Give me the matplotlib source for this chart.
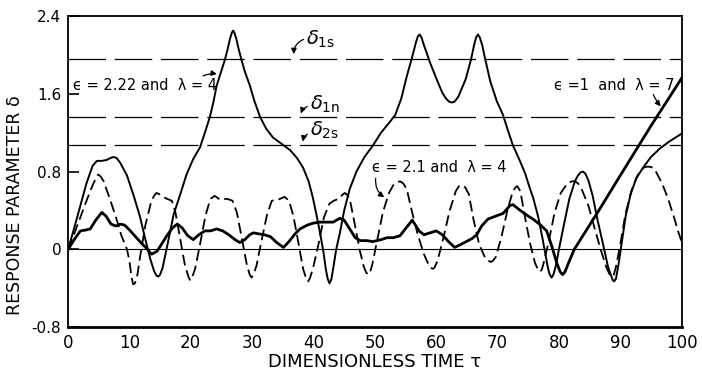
import matplotlib
matplotlib.use("Agg")
import matplotlib.pyplot as plt

# eps = 2.22, lambda = 4 (thin solid)
tau_a = [0, 1, 2, 3, 4, 4.7, 5.5, 6.3, 6.9, 7.4, 7.9, 8.5, 9.6, 10.7, 11.7, 12.6, 13.4,
         14.0, 14.4, 14.7, 15.0, 15.4, 16.1, 16.6, 17.2, 18.2, 19.3, 20.4, 21.5, 22.3,
         23.1, 23.7, 24.2, 25.0, 25.6, 26.0, 26.4, 26.7, 26.9, 27.1, 27.4, 27.8, 28.3,
         28.8, 29.6, 30.4, 31.3, 32.3, 33.4, 34.7, 36.2, 37.3, 38.3, 39.2, 39.9, 40.5,
         41.0, 41.6, 42.0, 42.3, 42.6, 42.9, 43.2, 43.7, 44.3, 45.0, 45.9, 47.0, 48.3,
         49.7, 51.0, 52.3, 53.3, 54.3, 55.2, 56.0, 56.7, 57.0, 57.3, 57.6, 58.0, 59.0,
         60.0, 61.0, 61.6, 62.1, 62.5, 63.0, 63.6, 64.8, 65.7, 66.2, 66.5, 66.8, 67.1,
         67.5, 67.9, 68.8, 69.9, 70.9, 71.7, 72.5, 73.5, 74.5, 75.3, 75.8, 76.6, 77.3,
         77.8, 78.2, 78.5, 78.8, 79.1, 79.5, 80.0, 80.8, 81.7, 82.6, 83.1, 83.5, 83.9,
         84.3, 84.8, 85.5, 86.3, 87.2, 88.0, 88.5, 88.8, 89.0, 89.3, 89.7, 90.2, 90.9,
         91.7, 92.6, 93.7, 95.0, 96.5, 98.0, 100]
delta_a = [0, 0.22, 0.45, 0.68, 0.86, 0.91, 0.91, 0.92, 0.94, 0.95, 0.94, 0.89, 0.76,
           0.55, 0.34, 0.10, -0.10, -0.22, -0.27, -0.28, -0.26, -0.19, 0.02, 0.17, 0.36,
           0.55, 0.77, 0.93, 1.05, 1.20, 1.36, 1.52, 1.68, 1.84, 1.96, 2.06, 2.17, 2.23,
           2.25, 2.23, 2.17, 2.06, 1.94, 1.83, 1.69, 1.52, 1.36, 1.24, 1.15, 1.09, 1.02,
           0.94, 0.84, 0.70, 0.53, 0.35, 0.19, -0.02, -0.20, -0.30, -0.35, -0.31, -0.20,
           0.0, 0.17, 0.40, 0.62, 0.80, 0.95, 1.07, 1.20, 1.30, 1.38, 1.55, 1.78, 1.96,
           2.13, 2.19, 2.21, 2.18, 2.10, 1.92, 1.76, 1.61, 1.55, 1.52, 1.51, 1.52, 1.57,
           1.75, 1.96, 2.11, 2.18, 2.21, 2.18, 2.10, 1.98, 1.73, 1.52, 1.38, 1.22, 1.07,
           0.93, 0.78, 0.62, 0.53, 0.34, 0.12, -0.05, -0.19, -0.26, -0.29, -0.26, -0.17,
           0.0, 0.25, 0.52, 0.70, 0.76, 0.79, 0.80, 0.78, 0.71, 0.55, 0.30, 0.05, -0.18,
           -0.27, -0.32, -0.33, -0.30, -0.16, 0.05, 0.35, 0.57, 0.73, 0.84, 0.95, 1.04,
           1.11, 1.19]

# eps = 2.1, lambda = 4 (dashed)
tau_b = [0, 1, 2, 3, 4, 4.6, 4.9, 5.3, 5.8, 6.8, 7.8, 8.7, 9.6, 10.0, 10.3, 10.6, 10.9,
         11.3, 11.8, 12.6, 13.5, 14.0, 14.4, 14.8, 15.2, 16.1, 16.9, 17.5, 18.3, 19.0,
         19.6, 19.9, 20.2, 20.7, 21.5, 22.4, 23.2, 23.9, 24.8, 25.9, 26.8, 27.5, 28.3,
         29.1, 29.6, 29.9, 30.2, 30.7, 31.5, 32.4, 33.2, 34.2, 35.3, 36.0, 36.7, 37.5,
         38.3, 38.8, 39.1, 39.4, 39.9, 40.8, 41.7, 42.6, 43.3, 44.1, 44.7, 45.1, 45.5,
         45.9, 46.6, 47.5, 48.2, 48.6, 48.9, 49.2, 49.6, 50.4, 51.3, 52.3, 53.0, 53.6,
         54.1, 54.6, 55.2, 56.0, 57.0, 58.0, 58.7, 59.1, 59.4, 59.7, 60.2, 61.1, 62.2,
         63.2, 63.7, 64.2, 64.7, 65.3, 66.1, 67.0, 68.0, 68.6, 68.9, 69.2, 69.7, 70.6,
         71.6, 72.4, 72.8, 73.2, 73.7, 74.5, 75.3, 76.1, 76.6, 76.9, 77.2, 77.6, 78.4,
         79.3, 80.3, 81.4, 82.1, 82.6, 83.1, 83.7, 84.8, 85.8, 86.8, 87.7, 88.2, 88.6,
         88.9, 89.3, 90.0, 90.8, 91.8, 92.8, 93.8, 94.3, 94.8, 95.3, 95.8, 96.8, 97.8,
         98.8, 99.5, 100]
delta_b = [0, 0.16, 0.33, 0.50, 0.66, 0.74, 0.77, 0.75, 0.70, 0.52, 0.33, 0.14, 0.0,
           -0.12, -0.27, -0.36, -0.35, -0.26, -0.05, 0.25, 0.48, 0.55, 0.58, 0.57, 0.55,
           0.52, 0.50, 0.38, 0.10, -0.15, -0.28, -0.32, -0.29, -0.20, 0.05, 0.35, 0.52,
           0.55, 0.51, 0.52, 0.50, 0.38, 0.12, -0.15, -0.26, -0.29, -0.26, -0.17, 0.08,
           0.35, 0.50, 0.51, 0.54, 0.50, 0.35, 0.08, -0.20, -0.30, -0.33, -0.30, -0.20,
           0.05, 0.33, 0.47, 0.50, 0.52, 0.56, 0.58, 0.56, 0.52, 0.30, 0.0, -0.18, -0.24,
           -0.26, -0.24, -0.15, 0.10, 0.38, 0.58, 0.66, 0.69, 0.70, 0.68, 0.62, 0.40, 0.15,
           -0.05, -0.15, -0.19, -0.20, -0.19, -0.12, 0.10, 0.40, 0.60, 0.65, 0.66, 0.64,
           0.57, 0.30, 0.05, -0.09, -0.12, -0.13, -0.12, -0.08, 0.12, 0.40, 0.58, 0.63,
           0.65, 0.60, 0.32, 0.06, -0.14, -0.21, -0.23, -0.21, -0.12, 0.10, 0.38, 0.58,
           0.68, 0.70, 0.70, 0.68, 0.62, 0.45, 0.22, 0.0, -0.18, -0.25, -0.28, -0.27, -0.18,
           0.05, 0.35, 0.60, 0.76, 0.84, 0.85, 0.85, 0.84, 0.80, 0.68, 0.52, 0.32, 0.17,
           0.08]

# eps = 1, lambda = 7 (heavy solid)
tau_c = [0, 1, 2.0, 3.0, 3.6, 4.5, 5.5, 6.2, 7.0, 7.8, 8.5, 9.2, 10.0, 11.0, 12.0, 12.8,
         13.6, 14.5, 15.3, 16.1, 17.0, 17.8, 18.6, 19.5, 20.4, 21.3, 22.3, 23.2, 24.2,
         25.2, 26.2, 27.2, 28.0, 28.8, 29.6, 30.2, 31.0, 32.0, 33.0, 34.0, 35.1, 36.0,
         37.0, 37.8, 39.0, 40.0, 41.0, 42.2, 43.2, 44.3, 45.0, 46.0, 46.8, 47.6, 48.6,
         49.7, 51.0, 52.0, 53.0, 54.1, 55.2, 56.1, 57.2, 58.0, 59.0, 60.0, 61.0, 62.0,
         63.0, 64.0, 64.9, 65.8, 66.6, 67.4, 68.4, 69.6, 70.9, 72.0, 72.5, 73.5, 74.8,
         75.8, 77.0, 78.0, 78.8, 79.7, 80.2, 80.6, 81.0, 81.5, 82.5, 86.6, 90.0, 95.0, 100]
delta_c = [0, 0.10, 0.19, 0.20, 0.21, 0.30, 0.38, 0.34, 0.26, 0.24, 0.26, 0.25, 0.20, 0.13,
           0.06, 0.01, -0.05, -0.02, 0.06, 0.14, 0.22, 0.26, 0.22, 0.14, 0.10, 0.15, 0.19,
           0.19, 0.21, 0.19, 0.15, 0.10, 0.07, 0.10, 0.15, 0.17, 0.16, 0.15, 0.13, 0.07,
           0.02, 0.08, 0.16, 0.21, 0.25, 0.27, 0.28, 0.28, 0.28, 0.32, 0.30, 0.20, 0.12,
           0.09, 0.09, 0.08, 0.10, 0.12, 0.12, 0.14, 0.23, 0.30, 0.19, 0.15, 0.17, 0.19,
           0.15, 0.08, 0.02, 0.05, 0.08, 0.11, 0.15, 0.24, 0.31, 0.34, 0.37, 0.45, 0.46,
           0.41, 0.35, 0.31, 0.25, 0.19, 0.04, -0.15, -0.23, -0.26, -0.23, -0.15, 0.0, 0.41,
           0.76, 1.27, 1.76]

# limiting response levels
delta_1s = 1.96
delta_1n = 1.36
delta_2s = 1.07

x_ticks = [0, 10, 20, 30, 40, 50, 60, 70, 80, 90, 100]
y_ticks = [-0.8, 0, 0.8, 1.6, 2.4]
y_tick_labels = ["-0.8", "0", "0.8", "1.6", "2.4"]

fig = plt.figure(figsize=(7.02, 3.73), dpi=100)
ax = fig.add_axes([0.097, 0.123, 0.874, 0.834])

for lvl in [delta_1s, delta_1n, delta_2s]:
    ln, = ax.plot([0, 100], [lvl, lvl], color="black", lw=0.9)
    ln.set_dashes((30, 7))
ax.axhline(0, color="black", lw=0.8)

ax.plot(tau_a, delta_a, color="black", lw=1.4)
lb, = ax.plot(tau_b, delta_b, color="black", lw=1.3)
lb.set_dashes((6, 2.8))
ax.plot(tau_c, delta_c, color="black", lw=2.0)

ax.set_xlim(0, 100)
ax.set_ylim(-0.8, 2.4)
ax.set_xticks(x_ticks)
ax.set_yticks(y_ticks)
ax.set_yticklabels(y_tick_labels)
ax.tick_params(axis="x", length=0, pad=5, labelsize=12)
ax.tick_params(axis="y", direction="in", length=8, width=1.2, pad=5, labelsize=11)
for side in ["left", "right", "top"]:
    ax.spines[side].set_linewidth(1.3)
ax.spines["bottom"].set_linewidth(2.0)

ax.set_xlabel("DIMENSIONLESS TIME \u03c4", fontsize=13, labelpad=1)
fig.text(0.022, 0.45, "RESPONSE PARAMETER \u03b4", rotation=90, fontsize=12.5,
         ha="center", va="center")

arrow = dict(arrowstyle="-|>", color="black", lw=0.9, mutation_scale=8)

ax.text(38.8, 2.16, r"$\delta_{\rm 1s}$", fontsize=14, ha="left", va="center")
ax.annotate("", xy=(36.8, 1.98), xytext=(38.8, 2.17),
            arrowprops=dict(arrow, connectionstyle="arc3,rad=0.4"))
ax.text(39.4, 1.49, r"$\delta_{\rm 1n}$", fontsize=14, ha="left", va="center")
ax.annotate("", xy=(37.8, 1.37), xytext=(39.4, 1.48),
            arrowprops=dict(arrow, connectionstyle="arc3,rad=0.3"))
ax.text(39.4, 1.22, r"$\delta_{\rm 2s}$", fontsize=14, ha="left", va="center")
ax.annotate("", xy=(38.2, 1.08), xytext=(39.4, 1.2),
            arrowprops=dict(arrow, connectionstyle="arc3,rad=0.3"))

ax.text(0.8, 1.69, "\u03f5 = 2.22 and  \u03bb = 4", fontsize=10.5, ha="left", va="center")
ax.annotate("", xy=(24.7, 1.8), xytext=(21.6, 1.77),
            arrowprops=dict(arrow, connectionstyle="arc3,rad=-0.2"))
ax.text(49.5, 0.84, "\u03f5 = 2.1 and  \u03bb = 4", fontsize=10.5, ha="left", va="center")
ax.annotate("", xy=(51.9, 0.52), xytext=(50.2, 0.76),
            arrowprops=dict(arrow, connectionstyle="arc3,rad=0.35"))
ax.text(79.2, 1.69, "\u03f5 =1  and  \u03bb = 7", fontsize=10.5, ha="left", va="center")
ax.annotate("", xy=(96.9, 1.45), xytext=(95.2, 1.62),
            arrowprops=dict(arrow, connectionstyle="arc3,rad=0.1"))

fig.savefig("out.png", dpi=100)
